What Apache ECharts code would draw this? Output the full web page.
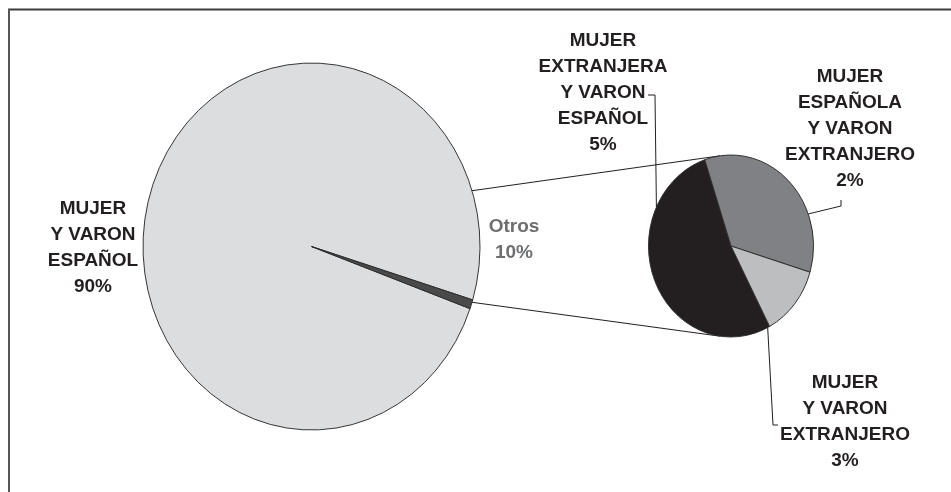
<!DOCTYPE html>
<html><head><meta charset="utf-8">
<script src="https://cdn.jsdelivr.net/npm/echarts@6/dist/echarts.min.js"></script>
<style>html,body{margin:0;padding:0;background:#fff}#c{width:951px;height:492px}</style>
</head><body><div id="c"></div>
<script>
// ---- data (proportions as drawn in the picture; printed percentages as label text) ----
const mainCategories = ['MUJER Y VARON ESPAÑOL', 'Otros'];
const mainLabels = ['MUJER\nY VARON\nESPAÑOL\n90%', 'Otros\n10%'];
const mainValues = [99.2, 0.8];
const subCategories = ['MUJER EXTRANJERA Y VARON ESPAÑOL', 'MUJER ESPAÑOLA Y VARON EXTRANJERO', 'MUJER Y VARON EXTRANJERO'];
const subLabels = ['MUJER\nEXTRANJERA\nY VARON\nESPAÑOL\n5%', 'MUJER\nESPAÑOLA\nY VARON\nEXTRANJERO\n2%', 'MUJER\nY VARON\nEXTRANJERO\n3%'];
const subValues = [52.6, 34.8, 12.6];

// ---- layout / style ----
const mainPie = {cx: 311.5, cy: 246.5, r: 168.5, sy: 1.089, startDeg: 19.8,
  colors: ['#dcdddf', '#4a4a4a'],
  labelPos: [[93, 248], [514, 240]], labelColors: ['#231f20', '#6d6e70']};
const subPie = {cx: 731, cy: 246, r: 82.5, sy: 1.103, startDeg: 62.1,
  colors: ['#231f20', '#808184', '#bdbec0'],
  labelPos: [[603, 92.5], [850, 129], [845, 422]],
  leaders: [
    {angle: 205.3, pts: [[648, 95], [655, 95]]},
    {angle: 339.4, pts: [[841, 200], [841, 206]]},
    {angle: 63.6, pts: [[778, 425], [773, 425]]}
  ]};
const connectorAngles = {main: 17.7, sub: 97.7};
const FONT = {fontSize: 19, fontWeight: 'bold', fontFamily: '"Liberation Sans", Arial, sans-serif', lineHeight: 26};

const rad = d => d * Math.PI / 180;
function ellPt(p, deg) {
  return [p.cx + p.r * Math.cos(rad(deg)), p.cy + p.r * p.sy * Math.sin(rad(deg))];
}
function sectorRender(pie, values, labels, withLeaders) {
  const total = values.reduce((a, b) => a + b, 0);
  return function (params, api) {
    const i = params.dataIndex;
    let before = 0;
    for (let k = 0; k < i; k++) before += values[k];
    const v = api.value(0);
    const a0 = rad(pie.startDeg + before / total * 360);
    const a1 = rad(pie.startDeg + (before + v) / total * 360);
    const children = [{
      type: 'sector',
      shape: {cx: pie.cx, cy: pie.cy, r0: 0, r: pie.r, startAngle: a0, endAngle: a1, clockwise: true},
      scaleY: pie.sy, originX: pie.cx, originY: pie.cy,
      style: {fill: pie.colors[i], stroke: '#2b2b2b', lineWidth: 0.9, strokeNoScale: true}
    }, {
      type: 'text',
      style: Object.assign({text: labels[i], x: pie.labelPos[i][0], y: pie.labelPos[i][1],
        align: 'center', verticalAlign: 'middle', fill: pie.labelColors ? pie.labelColors[i] : '#231f20'}, FONT)
    }];
    if (withLeaders) {
      const L = pie.leaders[i];
      children.push({
        type: 'polyline',
        shape: {points: [L.pts[0], L.pts[1], ellPt(pie, L.angle)]},
        style: {stroke: '#231f20', lineWidth: 1, fill: null}
      });
    }
    return {type: 'group', children};
  };
}

const chart = echarts.init(document.getElementById('c'), null, {renderer: 'canvas'});
chart.setOption({
  backgroundColor: '#ffffff',
  animation: false,
  graphic: [
    {type: 'line', shape: {x1: 8, y1: 9.5, x2: 951, y2: 9.5}, style: {stroke: '#3a3a3a', lineWidth: 2}},
    {type: 'line', shape: {x1: 9, y1: 9, x2: 9, y2: 492}, style: {stroke: '#555555', lineWidth: 2}}
  ],
  series: [
    {
      type: 'custom', name: 'connectors', coordinateSystem: 'none', silent: true,
      data: [[-1], [1]],
      renderItem: function (params, api) {
        const s = api.value(0);
        const p0 = ellPt(mainPie, s * connectorAngles.main);
        const p1 = ellPt(subPie, s * connectorAngles.sub);
        return {type: 'line', shape: {x1: p0[0], y1: p0[1], x2: p1[0], y2: p1[1]},
          style: {stroke: '#231f20', lineWidth: 1}};
      }
    },
    {
      type: 'custom', name: 'principal', coordinateSystem: 'none',
      data: mainValues.map((v, i) => ({name: mainCategories[i], value: [v]})),
      renderItem: sectorRender(mainPie, mainValues, mainLabels, false)
    },
    {
      type: 'custom', name: 'otros', coordinateSystem: 'none',
      data: subValues.map((v, i) => ({name: subCategories[i], value: [v]})),
      renderItem: sectorRender(subPie, subValues, subLabels, true)
    }
  ]
});
</script>
</body></html>
